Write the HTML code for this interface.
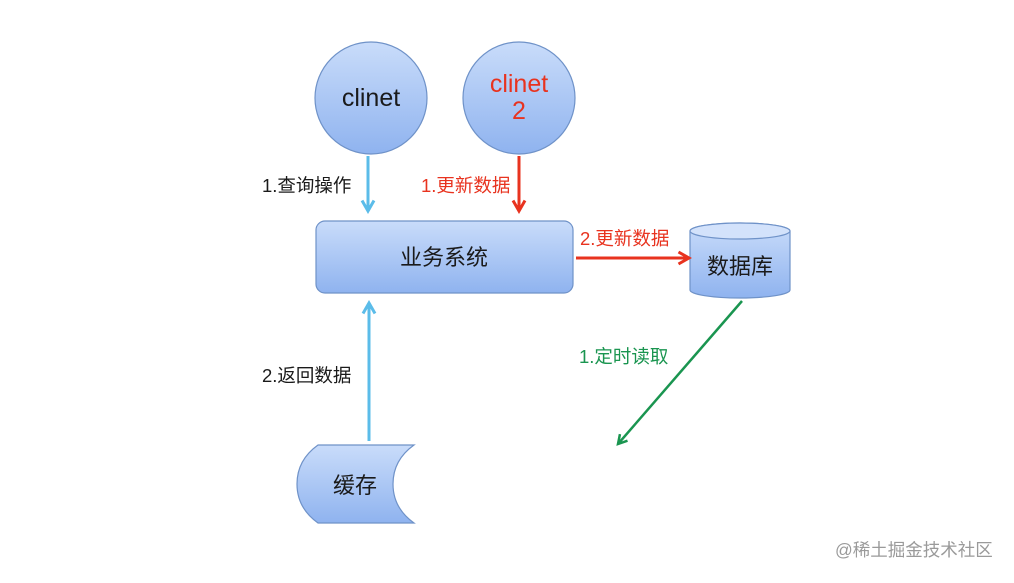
<!DOCTYPE html>
<html><head><meta charset="utf-8"><style>
body{margin:0;background:#fff;}
svg text{font-family:"Liberation Sans","Noto Sans CJK SC",sans-serif;}
</style></head><body>
<svg width="1014" height="578" viewBox="0 0 1014 578" xmlns="http://www.w3.org/2000/svg">
<defs>
<linearGradient id="g" x1="0" y1="0" x2="0" y2="1">
<stop offset="0" stop-color="#c9dcfa"/><stop offset="1" stop-color="#8fb3ef"/>
</linearGradient>
<marker id="ab" viewBox="0 0 10 10" refX="8" refY="5" markerWidth="5" markerHeight="5" orient="auto"><path d="M1,1 L8,5 L1,9" fill="none" stroke="#5bbce9" stroke-width="2"/></marker>
<marker id="ar" viewBox="0 0 10 10" refX="8" refY="5" markerWidth="5" markerHeight="5" orient="auto"><path d="M1,1 L8,5 L1,9" fill="none" stroke="#e8331f" stroke-width="2"/></marker>
<marker id="ag" viewBox="0 0 10 10" refX="8" refY="5" markerWidth="5" markerHeight="5" orient="auto"><path d="M1,1 L8,5 L1,9" fill="none" stroke="#1a9550" stroke-width="2"/></marker>
</defs>
<circle cx="371" cy="98" r="56" fill="url(#g)" stroke="#6f92c8" stroke-width="1.2"/>
<circle cx="519" cy="98" r="56" fill="url(#g)" stroke="#6f92c8" stroke-width="1.2"/>
<text x="371" y="106" font-size="25" text-anchor="middle" fill="#1a1a1a">clinet</text>
<text x="519" y="92" font-size="25" text-anchor="middle" fill="#e8331f">clinet</text>
<text x="519" y="119" font-size="25" text-anchor="middle" fill="#e8331f">2</text>
<rect x="316" y="221" width="257" height="72" rx="9" fill="url(#g)" stroke="#6f92c8" stroke-width="1.2"/>
<text x="444" y="265" font-size="22" text-anchor="middle" fill="#1a1a1a">业务系统</text>
<path d="M690,231 L690,290 A50,8 0 0 0 790,290 L790,231 A50,8 0 0 0 690,231 Z" fill="url(#g)" stroke="#6f92c8" stroke-width="1.2"/>
<ellipse cx="740" cy="231" rx="50" ry="8" fill="#d3e2fb" stroke="#6f92c8" stroke-width="1.2"/>
<text x="740" y="274" font-size="22" text-anchor="middle" fill="#1a1a1a">数据库</text>
<path d="M414,445 L318,445 Q297,460 297,484 Q297,508 318,523 L414,523 Q393,508 393,484 Q393,460 414,445 Z" fill="url(#g)" stroke="#6f92c8" stroke-width="1.2"/>
<text x="355" y="493" font-size="22" text-anchor="middle" fill="#1a1a1a">缓存</text>
<line x1="368" y1="156" x2="368" y2="211" stroke="#5bbce9" stroke-width="3" marker-end="url(#ab)"/>
<line x1="519" y1="156" x2="519" y2="211" stroke="#e8331f" stroke-width="3" marker-end="url(#ar)"/>
<line x1="576" y1="258" x2="689" y2="258" stroke="#e8331f" stroke-width="3" marker-end="url(#ar)"/>
<line x1="369" y1="441" x2="369" y2="303" stroke="#5bbce9" stroke-width="3" marker-end="url(#ab)"/>
<line x1="742" y1="301" x2="618" y2="444" stroke="#1a9550" stroke-width="2.5" marker-end="url(#ag)"/>
<text x="262" y="192" font-size="18.5" fill="#1a1a1a">1.查询操作</text>
<text x="421" y="192" font-size="18.5" fill="#e8331f">1.更新数据</text>
<text x="580" y="245" font-size="18.5" fill="#e8331f">2.更新数据</text>
<text x="262" y="382" font-size="18.5" fill="#1a1a1a">2.返回数据</text>
<text x="579" y="363" font-size="18.5" fill="#1a9550">1.定时读取</text>
<text x="835" y="556" font-size="17.5" fill="#9a9a9a">@稀土掘金技术社区</text>
</svg>
</body></html>
